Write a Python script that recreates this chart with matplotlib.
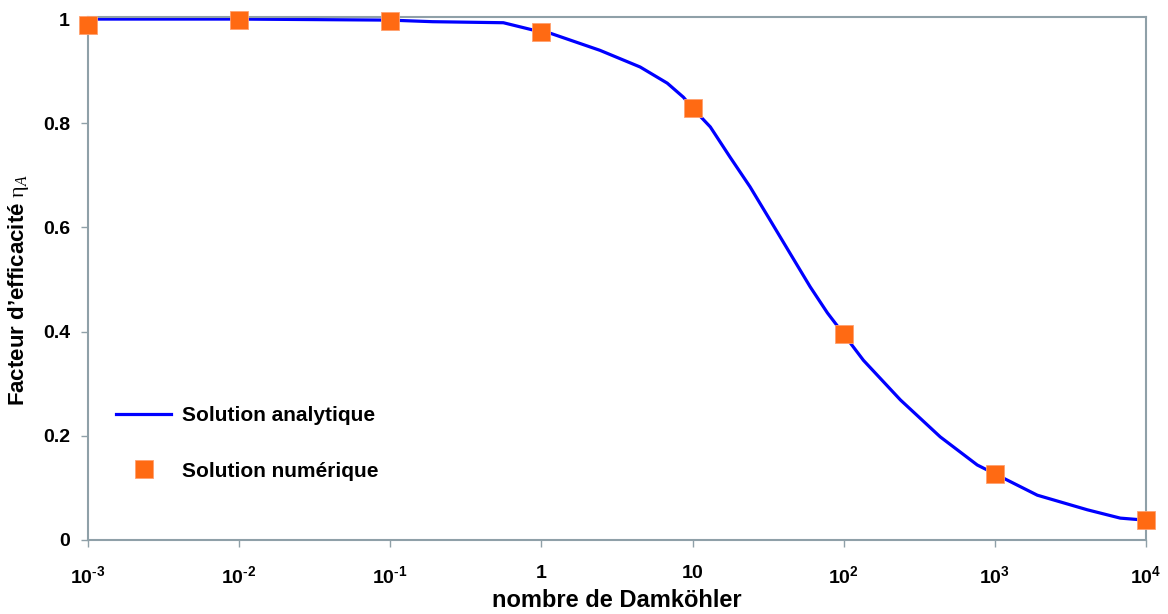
import matplotlib
matplotlib.use("Agg")
import matplotlib.pyplot as plt

# Analytical curve
da_line = [1e-3, 1e-2, 0.1, 0.19, 0.56, 0.88, 1.14, 2.44, 4.5, 6.8, 8.7, 10, 13.1,
           17.7, 24, 32.6, 44, 60, 78, 100, 135, 237, 435, 765, 1000, 1910, 4090,
           6760, 1e4]
eta_line = [1.0, 1.0, 0.998, 0.995, 0.993, 0.979, 0.973, 0.940, 0.908, 0.877, 0.850,
            0.829, 0.793, 0.735, 0.678, 0.614, 0.551, 0.486, 0.436, 0.395, 0.345,
            0.269, 0.198, 0.144, 0.127, 0.086, 0.058, 0.042, 0.038]

# Numerical points
da_pts = [1e-3, 1e-2, 1e-1, 1, 10, 100, 1000, 1e4]
eta_pts = [0.988, 0.998, 0.996, 0.976, 0.829, 0.395, 0.127, 0.038]

xtick_vals = [1e-3, 1e-2, 1e-1, 1, 10, 100, 1000, 1e4]
xtick_labels = [r"$\mathbf{10^{\text{-}3}}$", r"$\mathbf{10^{\text{-}2}}$",
                r"$\mathbf{10^{\text{-}1}}$", r"$\mathbf{1}$", r"$\mathbf{10}$",
                r"$\mathbf{10^{2}}$", r"$\mathbf{10^{3}}$", r"$\mathbf{10^{4}}$"]
ytick_vals = [0, 0.2, 0.4, 0.6, 0.8, 1]
ytick_labels = ["0", "0.2", "0.4", "0.6", "0.8", "1"]

plt.rcParams['font.family'] = ['Liberation Sans', 'DejaVu Sans']
plt.rcParams['mathtext.fontset'] = 'custom'
plt.rcParams['mathtext.rm'] = 'Liberation Serif'
plt.rcParams['mathtext.it'] = 'Liberation Serif:italic'
plt.rcParams['mathtext.bf'] = 'Liberation Sans:bold'

fig = plt.figure(figsize=(11.68, 6.14), dpi=100)
ax = fig.add_axes([88/1168, 1-540/614, (1146-88)/1168, (540-17)/614])

frame_c = '#8fa0a8'
ax.plot(da_line, eta_line, color='#0000ff', lw=2.3, label='Solution analytique', zorder=2)
ax.plot(da_pts, eta_pts, ls='none', marker='s', ms=12.5, color='#ff6a13',
        markeredgecolor='#ffa070', markeredgewidth=0.6, clip_on=False,
        label='Solution numérique', zorder=3)

ax.set_xscale('log')
ax.set_xlim(1e-3, 1e4)
ax.set_ylim(0, 1.004)
ax.set_xticks(xtick_vals)
ax.set_xticklabels(xtick_labels, fontsize=14)
ax.minorticks_off()
ax.set_yticks(ytick_vals)
ax.set_yticklabels(ytick_labels, fontsize=14, fontweight='bold')

for s in ax.spines.values():
    s.set_color(frame_c)
    s.set_linewidth(1.5)
ax.tick_params(axis='both', colors=frame_c, labelcolor='black', length=5, width=1)
ax.tick_params(axis='x', pad=13)
ax.tick_params(axis='y', pad=8)

ax.set_xlabel('nombre de Damköhler', fontsize=17, fontweight='bold')
ax.xaxis.set_label_coords(0.5, -(589-540)/523)
ax.set_ylabel(r'Facteur d’efficacité $\mathrm{\eta}_{A}$', fontsize=16,
              fontweight='bold')
ax.yaxis.set_label_coords(-(88-31)/1058, (540-290)/523)

leg = ax.legend(loc='lower left', bbox_to_anchor=(0.009, 0.0774), frameon=False,
                prop={'weight': 'bold', 'size': 15},
                handlelength=2.64, labelspacing=1.75, handletextpad=0.5)

fig.savefig('out.png', dpi=100)
